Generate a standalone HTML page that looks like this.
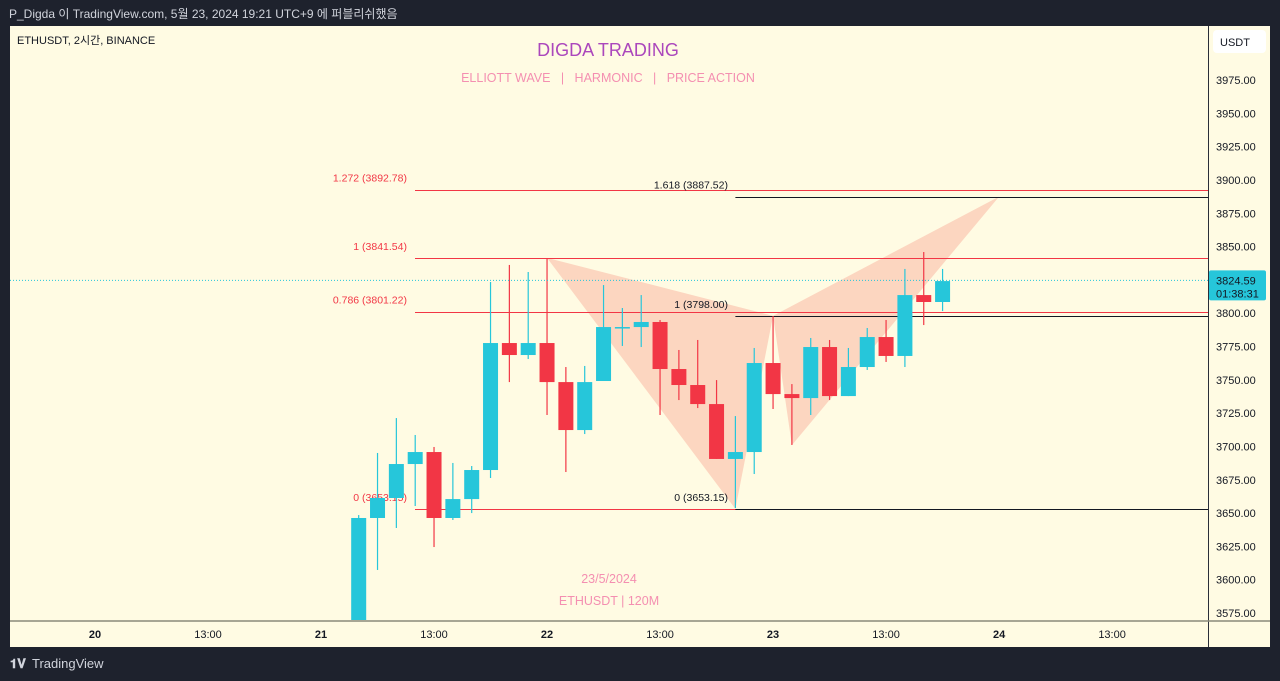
<!DOCTYPE html>
<html><head><meta charset="utf-8"><style>
html,body{margin:0;padding:0;background:#1e222d;width:1280px;height:681px;overflow:hidden;font-family:"Liberation Sans","Noto Sans CJK KR",sans-serif}
svg text{font-family:"Liberation Sans","Noto Sans CJK KR",sans-serif}
</style></head><body>
<svg id="chart" width="1280" height="681" xmlns="http://www.w3.org/2000/svg">
<rect x="0" y="0" width="1280" height="681" fill="#1e222d"/>
<text x="9" y="18" fill="#d1d4dc" font-size="12">P_Digda 이 TradingView.com, 5월 23, 2024 19:21 UTC+9 에 퍼블리쉬했음</text>
<rect x="10" y="26" width="1260" height="621" fill="#fffbe3"/>
<line x1="1208.5" y1="26" x2="1208.5" y2="647" stroke="#2a2e39" stroke-width="1"/>
<line x1="10" y1="621" x2="1270" y2="621" stroke="#8a8a7a" stroke-width="1.5"/>
<rect x="1213" y="30" width="53" height="23" rx="4" fill="#ffffff"/>
<text x="1220" y="46" font-size="11" fill="#131722">USDT</text>
<text x="17" y="44" font-size="11" fill="#131722">ETHUSDT, 2시간, BINANCE</text>
<text x="608" y="56" font-size="18" fill="#ab47bc" text-anchor="middle">DIGDA TRADING</text>
<text x="608" y="82" font-size="12.5" fill="#f48fb1" text-anchor="middle">ELLIOTT WAVE &#160;&#160;|&#160;&#160; HARMONIC &#160;&#160;|&#160;&#160; PRICE ACTION</text>
<text x="609" y="583" font-size="12.5" fill="#f48fb1" text-anchor="middle">23/5/2024</text>
<text x="609" y="605" font-size="12.5" fill="#f48fb1" text-anchor="middle">ETHUSDT | 120M</text>
<g id="g-yaxis"></g><g id="g-xaxis"></g><g id="g-pattern"></g><g id="g-levels"></g><g id="g-candles"></g><g id="g-last"></g>
<g>
<text x="10" y="668" font-size="13" font-weight="bold" fill="#d1d4dc">𝟏𝐕</text>
<text x="32" y="668" font-size="13" fill="#d1d4dc">TradingView</text>
</g>
</svg>
<script>
const opens=[3560,3646.3,3661.3,3686.8,3695.8,3646.3,3660.5,3682.3,3777.6,3768.6,3777.6,3748.3,3712.3,3749.1,3789.6,3789.6,3793.4,3758.1,3746.1,3731.8,3690.6,3695.8,3762.6,3739.3,3736.3,3774.6,3737.8,3759.6,3782.1,3767.9,3813.6,3808.4];
const highs=[3648.5,3695.1,3721.3,3708.6,3699.6,3687.6,3685.3,3823.4,3836.2,3830.9,3841.4,3759.6,3760.4,3821.1,3803.9,3813.6,3794.9,3772.4,3779.9,3749.8,3722.8,3773.9,3797.9,3746.8,3781.4,3779.9,3773.9,3788.9,3794.9,3833.2,3845.9,3833.2];
const lows=[3550,3607.3,3638.8,3655.3,3624.5,3644.8,3650,3676.3,3748.3,3765.6,3723.6,3680.8,3709.3,3749.1,3775.4,3774.6,3723.6,3734.8,3728.8,3690.6,3653.8,3679.3,3728.1,3701.1,3723.6,3734.8,3737.8,3757.4,3763.4,3759.6,3791.1,3801.6];
const closes=[3646.3,3661.3,3686.8,3695.8,3646.3,3660.5,3682.3,3777.6,3768.6,3777.6,3748.3,3712.3,3748.3,3789.6,3789.6,3793.4,3758.1,3746.1,3731.8,3690.6,3695.8,3762.6,3739.3,3736.3,3774.6,3737.8,3759.6,3782.1,3767.9,3813.6,3808.4,3824.1];
const firstBarIndex=14;
const priceTicks=[3975,3950,3925,3900,3875,3850,3825,3800,3775,3750,3725,3700,3675,3650,3625,3600,3575];
const timeLabels=["20","13:00","21","13:00","22","13:00","23","13:00","24","13:00"];
const timeLabelIdx=[0,6,12,18,24,30,36,42,48,54];
const redLevels=[3892.78,3841.54,3801.22,3653.15];
const redLevelLabels=["1.272 (3892.78)","1 (3841.54)","0.786 (3801.22)","0 (3653.15)"];
const blackLevels=[3887.52,3798.00,3653.15];
const blackLevelLabels=["1.618 (3887.52)","1 (3798.00)","0 (3653.15)"];
const patternIdx=[24,34,36,37,48];
const patternPrice=[3841.54,3653.15,3798.00,3701,3887.52];
const lastPrice=3824.59;

const NS="http://www.w3.org/2000/svg";
const Y=p=>80+(3975-p)*1.3325;
const X=i=>95+i*18.835;
const C=v=>Math.round(v)+0.5;
function mk(tag,attrs,parent){const e=document.createElementNS(NS,tag);for(const k in attrs)e.setAttribute(k,attrs[k]);document.getElementById(parent).appendChild(e);return e;}

priceTicks.forEach(p=>{const t=mk('text',{x:1216,y:Y(p)+4,'font-size':11,fill:'#131722'},'g-yaxis');t.textContent=p.toFixed(2);

});
timeLabels.forEach((s,i)=>{const t=mk('text',{x:X(timeLabelIdx[i]),y:638,'font-size':11,fill:'#131722','text-anchor':'middle','font-weight':s.length<3?'bold':'normal'},'g-xaxis');t.textContent=s;

});

const pts=patternIdx.map((i,k)=>[X(i),Y(patternPrice[k])]);
[[0,1,2],[2,3,4]].forEach(tri=>{const p=mk('polygon',{points:tri.map(k=>pts[k].join(',')).join(' '),fill:'rgba(245,120,100,0.28)'},'g-pattern');

});

redLevels.forEach((v,k)=>{const l=mk('line',{x1:415,x2:1208,y1:C(Y(v)),y2:C(Y(v)),stroke:'#f23645','stroke-width':1},'g-levels');


const t=mk('text',{x:407,y:Y(v)-8,'font-size':10.5,fill:'#f23645','text-anchor':'end'},'g-levels');t.textContent=redLevelLabels[k];

});
blackLevels.forEach((v,k)=>{const l=mk('line',{x1:X(patternIdx[1]),x2:1208,y1:C(Y(v)),y2:C(Y(v)),stroke:'#131722','stroke-width':1},'g-levels');


const t=mk('text',{x:728,y:Y(v)-8,'font-size':10.5,fill:'#131722','text-anchor':'end'},'g-levels');t.textContent=blackLevelLabels[k];

});

const ly=Y(lastPrice);
const dl=mk('line',{x1:10,x2:1208,y1:ly,y2:ly,stroke:'#26c6da','stroke-width':1,'stroke-dasharray':'1,2'},'g-last');



opens.forEach((o,k)=>{const c=closes[k],x=X(firstBarIndex+k),up=c>=o,col=up?'#26c6da':'#f23645';
const g=mk('g',{},'g-candles');


const w=document.createElementNS(NS,'line');[['x1',x],['x2',x],['y1',Y(highs[k])],['y2',Math.min(Y(lows[k]),620)],['stroke',col],['stroke-width',1.2]].forEach(a=>w.setAttribute(a[0],a[1]));g.appendChild(w);
const top=Y(Math.max(o,c)),bot=Math.min(Y(Math.min(o,c)),620);
const r=document.createElementNS(NS,'rect');[['x',x-7.5],['y',top],['width',15],['height',Math.max(bot-top,1.5)],['fill',col]].forEach(a=>r.setAttribute(a[0],a[1]));g.appendChild(r);});

const lb=mk('rect',{x:1209,y:ly-10,width:57,height:30,fill:'#26c6da',rx:2},'g-last');


const t1=mk('text',{x:1216,y:ly+4,'font-size':11,fill:'#131722'},'g-last');t1.textContent=lastPrice.toFixed(2);
const t2=mk('text',{x:1216,y:ly+17,'font-size':11,fill:'#131722'},'g-last');t2.textContent='01:38:31';
</script>
</body></html>
